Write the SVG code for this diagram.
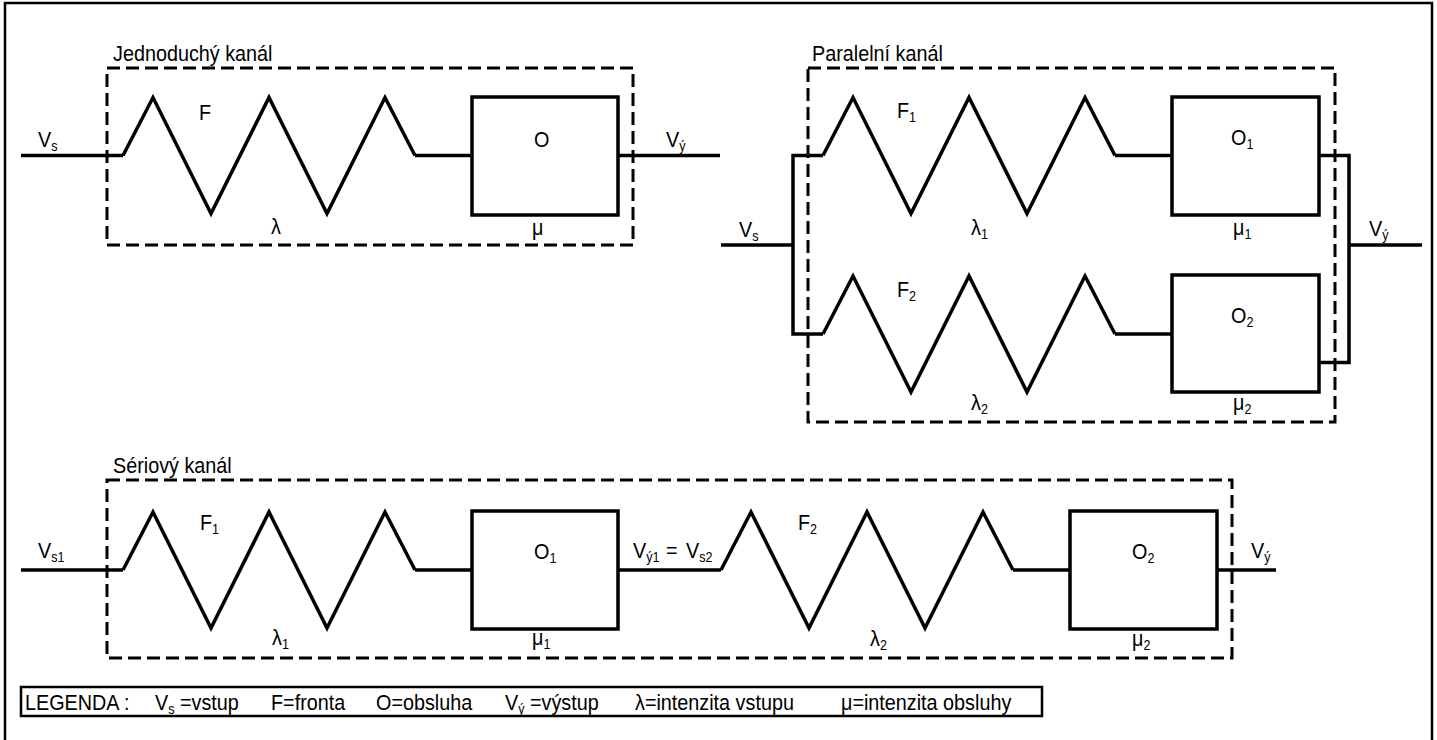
<svg xmlns="http://www.w3.org/2000/svg" width="1437" height="740" viewBox="0 0 1437 740">
<style>
.ln{fill:none;stroke:#000;stroke-width:3.5;stroke-linejoin:miter;stroke-miterlimit:10}
.bx{fill:#fff;stroke:#000;stroke-width:3.5}
.dash{fill:none;stroke:#000;stroke-width:3;stroke-dasharray:13 6}
.frame{fill:none;stroke:#000;stroke-width:2.5}
text{font-family:"Liberation Sans",Arial,sans-serif;font-size:22px;fill:#000}
.sub{font-size:14px}
</style>
<rect width="1437" height="740" fill="#fff"/>
<path class="frame" d="M5,745 V3 H1432 V745"/>

<g id="group-simple">
<rect class="dash" x="107" y="68" width="526" height="177"/>
<text transform="translate(113 61) scale(.9 1)">Jednoduchý kanál</text>
</g>
<g id="group-parallel">
<rect class="dash" x="808" y="68" width="527" height="354"/>
<text transform="translate(812 61) scale(.9 1)">Paralelní kanál</text>
</g>
<g id="group-serial">
<rect class="dash" x="107" y="480" width="1125" height="178"/>
<text transform="translate(113 473) scale(.9 1)">Sériový kanál</text>
</g>

<g id="connectors">
<path class="ln" d="M21,155.5 H123"/>
<path class="ln" d="M415,155.5 H472"/>
<path class="ln" d="M618,155.5 H720"/>
<path class="ln" d="M721,245 H793 M823,155.5 H793 V334 H823"/>
<path class="ln" d="M1115,155.5 H1172 M1115,334 H1172"/>
<path class="ln" d="M1319,155.5 H1349 V362.5 H1319 M1349,245 H1422"/>
<path class="ln" d="M21,570 H123 M415,570 H472 M618,570 H721 M1013,570 H1070 M1217,570 H1276"/>
</g>

<g id="labels-io">
<text transform="translate(38 147) scale(.9 1)">V<tspan class="sub" dy="4">s</tspan></text>
<text transform="translate(666 147) scale(.9 1)">V<tspan class="sub" dy="4">ý</tspan></text>
<text transform="translate(739 237) scale(.9 1)">V<tspan class="sub" dy="4">s</tspan></text>
<text transform="translate(1369 236) scale(.9 1)">V<tspan class="sub" dy="4">ý</tspan></text>
<text transform="translate(38 558) scale(.9 1)">V<tspan class="sub" dy="4">s1</tspan></text>
<text transform="translate(633 558) scale(.9 1)">V<tspan class="sub" dy="4">ý1</tspan></text>
<text transform="translate(666 558) scale(.9 1)">=</text>
<text transform="translate(686 558) scale(.9 1)">V<tspan class="sub" dy="4">s2</tspan></text>
<text transform="translate(1251 558) scale(.9 1)">V<tspan class="sub" dy="4">ý</tspan></text>
</g>

<g id="queue-F">
<path class="ln" d="M123,155.5 L153,97.5 L211,213.5 L269,97.5 L327,213.5 L385,97.5 L415,155.5"/>
<text transform="translate(199 120) scale(.9 1)">F</text>
<text transform="translate(271 234) scale(.9 1)">λ</text>
</g>
<g id="server-O">
<rect class="bx" x="472" y="97" width="146" height="118"/>
<text transform="translate(534 147) scale(.9 1)">O</text>
<text transform="translate(532 235) scale(.9 1)">μ</text>
</g>

<g id="queue-F1-par">
<path class="ln" d="M823,155.5 L853,97.5 L911,213.5 L969,97.5 L1027,213.5 L1085,97.5 L1115,155.5"/>
<text transform="translate(897 118) scale(.9 1)">F<tspan class="sub" dy="4">1</tspan></text>
<text transform="translate(971 235) scale(.9 1)">λ<tspan class="sub" dy="4">1</tspan></text>
</g>
<g id="server-O1-par">
<rect class="bx" x="1172" y="97" width="147" height="118"/>
<text transform="translate(1231 145) scale(.9 1)">O<tspan class="sub" dy="4">1</tspan></text>
<text transform="translate(1233 235) scale(.9 1)">μ<tspan class="sub" dy="4">1</tspan></text>
</g>
<g id="queue-F2-par">
<path class="ln" d="M823,334 L853,276 L911,392 L969,276 L1027,392 L1085,276 L1115,334"/>
<text transform="translate(897 297) scale(.9 1)">F<tspan class="sub" dy="4">2</tspan></text>
<text transform="translate(971 410) scale(.9 1)">λ<tspan class="sub" dy="4">2</tspan></text>
</g>
<g id="server-O2-par">
<rect class="bx" x="1172" y="275" width="147" height="117"/>
<text transform="translate(1231 323) scale(.9 1)">O<tspan class="sub" dy="4">2</tspan></text>
<text transform="translate(1233 410) scale(.9 1)">μ<tspan class="sub" dy="4">2</tspan></text>
</g>

<g id="queue-F1-ser">
<path class="ln" d="M123,570 L153,512 L211,628 L269,512 L327,628 L385,512 L415,570"/>
<text transform="translate(200 530) scale(.9 1)">F<tspan class="sub" dy="4">1</tspan></text>
<text transform="translate(272 645) scale(.9 1)">λ<tspan class="sub" dy="4">1</tspan></text>
</g>
<g id="server-O1-ser">
<rect class="bx" x="472" y="511" width="146" height="118"/>
<text transform="translate(534 559) scale(.9 1)">O<tspan class="sub" dy="4">1</tspan></text>
<text transform="translate(532 645) scale(.9 1)">μ<tspan class="sub" dy="4">1</tspan></text>
</g>
<g id="queue-F2-ser">
<path class="ln" d="M721,570 L751,512 L809,628 L867,512 L925,628 L983,512 L1013,570"/>
<text transform="translate(798 530) scale(.9 1)">F<tspan class="sub" dy="4">2</tspan></text>
<text transform="translate(870 646) scale(.9 1)">λ<tspan class="sub" dy="4">2</tspan></text>
</g>
<g id="server-O2-ser">
<rect class="bx" x="1070" y="511" width="147" height="118"/>
<text transform="translate(1132 559) scale(.9 1)">O<tspan class="sub" dy="4">2</tspan></text>
<text transform="translate(1132 646) scale(.9 1)">μ<tspan class="sub" dy="4">2</tspan></text>
</g>

<g id="legend">
<rect class="frame" x="21" y="687" width="1021" height="29"/>
<text transform="translate(25 710) scale(.9 1)">LEGENDA :</text>
<text transform="translate(155 710) scale(.9 1)">V<tspan class="sub" dy="4">s</tspan><tspan dy="-4"> =vstup</tspan></text>
<text transform="translate(271 710) scale(.9 1)">F=fronta</text>
<text transform="translate(376 710) scale(.9 1)">O=obsluha</text>
<text transform="translate(505 710) scale(.9 1)">V<tspan class="sub" dy="4">ý</tspan><tspan dy="-4"> =výstup</tspan></text>
<text transform="translate(635 710) scale(.9 1)">λ=intenzita vstupu</text>
<text transform="translate(841 710) scale(.9 1)">μ=intenzita obsluhy</text>
</g>
</svg>
